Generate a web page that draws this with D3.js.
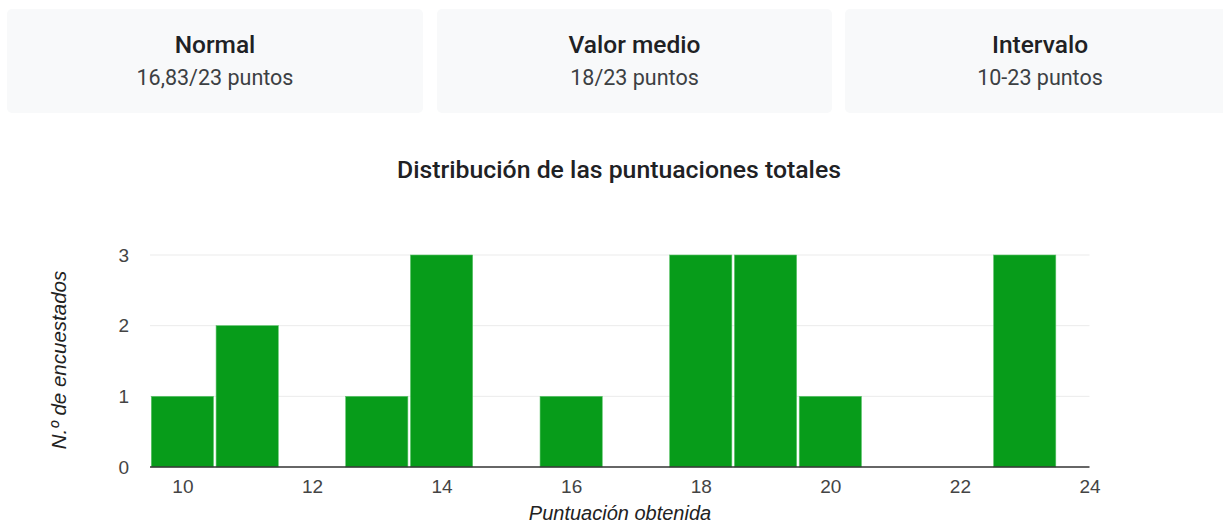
<!DOCTYPE html>
<html>
<head>
<meta charset="utf-8">
<script src="https://cdn.jsdelivr.net/npm/d3@7"></script>
<style>
  body { margin: 0; background: #fff; overflow: hidden; }
</style>
</head>
<body>
<div id="chart-area"></div>
<script>
// Data ---------------------------------------------------
const cardTitles = ["Normal", "Valor medio", "Intervalo"]
const cardValues = ["16,83/23 puntos", "18/23 puntos", "10-23 puntos"]
const scores = [10, 11, 12, 13, 14, 15, 16, 17, 18, 19, 20, 21, 22, 23]
const counts = [1, 2, 0, 1, 3, 0, 1, 0, 3, 3, 1, 0, 0, 3]
const xTicks = [10, 12, 14, 16, 18, 20, 22, 24]
const yTicks = [0, 1, 2, 3]

// Canvas setup -------------------------------------------
const WIDTH = 1223
const HEIGHT = 525
const svg = d3.select("#chart-area").append("svg")
  .attr("width", WIDTH)
  .attr("height", HEIGHT)

// Summary cards ------------------------------------------
const cardBoxes = [[7, 416], [437, 395], [845, 390]]
const cards = svg.selectAll("g.card")
  .data(cardTitles)
  .enter().append("g")
  .attr("class", "card")
  .attr("transform", (d, i) => `translate(${cardBoxes[i][0]}, 9)`)

cards.append("rect")
  .attr("width", (d, i) => cardBoxes[i][1])
  .attr("height", 104)
  .attr("rx", 5)
  .attr("fill", "#f8f9fa")

cards.append("text")
  .text(d => d)
  .attr("x", (d, i) => cardBoxes[i][1] / 2)
  .attr("y", 37.5)
  .attr("text-anchor", "middle")
  .attr("dominant-baseline", "middle")
  .attr("font-family", "Roboto")
  .attr("font-weight", 500)
  .attr("font-size", "24.5px")
  .attr("fill", "#202124")

cards.append("text")
  .text((d, i) => cardValues[i])
  .attr("x", (d, i) => cardBoxes[i][1] / 2)
  .attr("y", 70.5)
  .attr("text-anchor", "middle")
  .attr("dominant-baseline", "middle")
  .attr("font-family", "Roboto")
  .attr("font-size", "21.5px")
  .attr("fill", "#3c4043")

// Title --------------------------------------------------
svg.append("text")
  .text("Distribución de las puntuaciones totales")
  .attr("x", 619)
  .attr("y", 171)
  .attr("text-anchor", "middle")
  .attr("dominant-baseline", "middle")
  .attr("font-family", "Roboto")
  .attr("font-weight", 500)
  .attr("font-size", "24.8px")
  .attr("fill", "#202124")

// Scales -------------------------------------------------
const xScale = d3.scaleLinear()
  .domain([9.5, 24])
  .range([150, 1089.5])

const yScale = d3.scaleLinear()
  .domain([0, 3])
  .range([467, 255])

const g = svg.append("g")

// Gridlines
g.selectAll("line.grid")
  .data(yTicks.filter(d => d > 0))
  .enter().append("line")
  .attr("class", "grid")
  .attr("x1", xScale.range()[0])
  .attr("x2", xScale.range()[1])
  .attr("y1", d => yScale(d))
  .attr("y2", d => yScale(d))
  .attr("stroke", "#ebebeb")
  .attr("stroke-width", 1)

// Bars
const bw = 0.48
g.selectAll("rect.bar")
  .data(scores.filter((d, i) => counts[i] > 0))
  .enter().append("rect")
  .attr("class", "bar")
  .attr("x", d => xScale(d - bw))
  .attr("width", d => xScale(d + bw) - xScale(d - bw))
  .attr("y", d => yScale(counts[scores.indexOf(d)]))
  .attr("height", d => yScale(0) - yScale(counts[scores.indexOf(d)]))
  .attr("fill", "#079c1a")
  .attr("stroke", "#5cc46a")
  .attr("stroke-width", 0.6)

// Baseline
g.append("line")
  .attr("x1", xScale.range()[0])
  .attr("x2", xScale.range()[1])
  .attr("y1", yScale(0))
  .attr("y2", yScale(0))
  .attr("stroke", "#333")
  .attr("stroke-width", 1.5)

// Axes ---------------------------------------------------
const xAxis = d3.axisBottom(xScale).tickValues(xTicks).tickSize(0).tickPadding(0)
const xAxisG = g.append("g")
  .attr("transform", `translate(0, ${yScale(0) + 12})`)
  .call(xAxis)
xAxisG.select(".domain").remove()
xAxisG.selectAll("text")
  .attr("font-family", "Liberation Sans, Arial")
  .attr("font-size", "19px")
  .attr("fill", "#444")

const yAxis = d3.axisLeft(yScale).tickValues(yTicks).tickFormat(d3.format("d")).tickSize(0).tickPadding(0)
const yAxisG = g.append("g")
  .attr("transform", `translate(129, 0)`)
  .call(yAxis)
yAxisG.select(".domain").remove()
yAxisG.selectAll("text")
  .attr("font-family", "Liberation Sans, Arial")
  .attr("font-size", "19px")
  .attr("fill", "#444")

// Axis labels
svg.append("text")
  .text("Puntuación obtenida")
  .attr("x", 620)
  .attr("y", 515)
  .attr("text-anchor", "middle")
  .attr("dominant-baseline", "middle")
  .attr("font-family", "Liberation Sans, Arial")
  .attr("font-style", "italic")
  .attr("font-size", "20px")
  .attr("fill", "#222")

svg.append("text")
  .text("N.º de encuestados")
  .attr("transform", "translate(61, 360) rotate(-90)")
  .attr("text-anchor", "middle")
  .attr("dominant-baseline", "middle")
  .attr("font-family", "Liberation Sans, Arial")
  .attr("font-style", "italic")
  .attr("font-size", "20.5px")
  .attr("fill", "#222")
</script>
</body>
</html>
